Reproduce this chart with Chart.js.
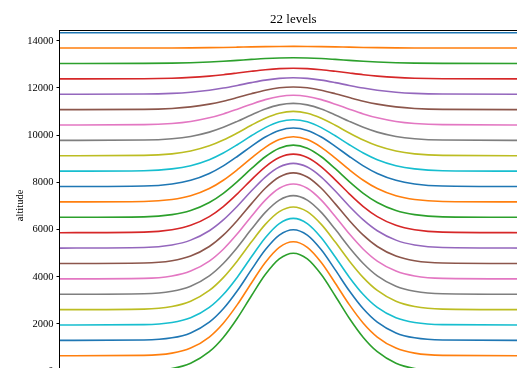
<!DOCTYPE html>
<html>
<head>
<meta charset="utf-8">
<script src="https://cdn.jsdelivr.net/npm/chart.js@4.4.0/dist/chart.umd.min.js"></script>
<style>
  html, body { margin: 0; padding: 0; overflow: hidden; background: #fff; }
  #wrap { width: 540px; height: 392px; }
</style>
</head>
<body>
<div id="wrap"><canvas id="levels" width="540" height="392"></canvas></div>
<script>
// horizontal positions (km), hill centred at 0
const xKm = [-50, -32, -26, -22, -18, -15, -12, -9, -6, -3, 0, 3, 6, 9, 12, 15, 18, 22, 26, 32, 50];

// level heights (m), bottom (z00 = terrain) to top (z22)
const z00 = [0, 17, 116, 338, 823, 1428, 2242, 3185, 4092, 4756, 5000, 4756, 4092, 3185, 2242, 1428, 823, 338, 116, 17, 0];
const z01 = [652, 668, 764, 978, 1447, 2031, 2818, 3728, 4604, 5246, 5482, 5246, 4604, 3728, 2818, 2031, 1447, 978, 764, 668, 652];
const z02 = [1304, 1320, 1413, 1621, 2076, 2643, 3407, 4291, 5142, 5765, 5994, 5765, 5142, 4291, 3407, 2643, 2076, 1621, 1413, 1320, 1304];
const z03 = [1956, 1971, 2061, 2261, 2700, 3247, 3983, 4835, 5655, 6255, 6476, 6255, 5655, 4835, 3983, 3247, 2700, 2261, 2061, 1971, 1956];
const z04 = [2608, 2630, 2739, 2963, 3421, 3966, 4673, 5469, 6219, 6760, 6958, 6760, 6219, 5469, 4673, 3966, 3421, 2963, 2739, 2630, 2608];
const z05 = [3260, 3281, 3386, 3602, 4042, 4565, 5244, 6009, 6729, 7250, 7440, 7250, 6729, 6009, 5244, 4565, 4042, 3602, 3386, 3281, 3260];
const z06 = [3912, 3932, 4033, 4240, 4664, 5167, 5820, 6556, 7249, 7749, 7932, 7749, 7249, 6556, 5820, 5167, 4664, 4240, 4033, 3932, 3912];
const z07 = [4564, 4583, 4680, 4878, 5282, 5762, 6386, 7089, 7751, 8229, 8404, 8229, 7751, 7089, 6386, 5762, 5282, 4878, 4680, 4583, 4564];
const z08 = [5216, 5240, 5348, 5553, 5952, 6411, 6991, 7632, 8227, 8651, 8806, 8651, 8227, 7632, 6991, 6411, 5952, 5553, 5348, 5240, 5216];
const z09 = [5868, 5890, 5990, 6180, 6551, 6976, 7515, 8109, 8661, 9054, 9198, 9054, 8661, 8109, 7515, 6976, 6551, 6180, 5990, 5890, 5868];
const z10 = [6520, 6540, 6632, 6807, 7148, 7538, 8033, 8579, 9086, 9448, 9580, 9448, 9086, 8579, 8033, 7538, 7148, 6807, 6632, 6540, 6520];
const z11 = [7172, 7190, 7273, 7431, 7738, 8091, 8537, 9029, 9487, 9813, 9932, 9813, 9487, 9029, 8537, 8091, 7738, 7431, 7273, 7190, 7172];
const z12 = [7824, 7846, 7933, 8088, 8378, 8699, 9098, 9529, 9923, 10203, 10304, 10203, 9923, 9529, 9098, 8699, 8378, 8088, 7933, 7846, 7824];
const z13 = [8476, 8495, 8571, 8708, 8963, 9246, 9596, 9975, 10321, 10567, 10656, 10567, 10321, 9975, 9596, 9246, 8963, 8708, 8571, 8495, 8476];
const z14 = [9128, 9144, 9210, 9328, 9548, 9792, 10094, 10420, 10719, 10931, 11008, 10931, 10719, 10420, 10094, 9792, 9548, 9328, 9210, 9144, 9128];
const z15 = [9780, 9794, 9849, 9947, 10130, 10334, 10586, 10859, 11109, 11286, 11350, 11286, 11109, 10859, 10586, 10334, 10130, 9947, 9849, 9794, 9780];
const z16 = [10432, 10446, 10497, 10583, 10736, 10902, 11102, 11315, 11508, 11643, 11692, 11643, 11508, 11315, 11102, 10902, 10736, 10583, 10497, 10446, 10432];
const z17 = [11084, 11095, 11134, 11199, 11316, 11442, 11595, 11757, 11904, 12007, 12044, 12007, 11904, 11757, 11595, 11442, 11316, 11199, 11134, 11095, 11084];
const z18 = [11736, 11744, 11772, 11820, 11905, 11997, 12108, 12227, 12334, 12409, 12436, 12409, 12334, 12227, 12108, 11997, 11905, 11820, 11772, 11744, 11736];
const z19 = [12388, 12394, 12415, 12448, 12505, 12564, 12635, 12709, 12775, 12821, 12838, 12821, 12775, 12709, 12635, 12564, 12505, 12448, 12415, 12394, 12388];
const z20 = [13040, 13043, 13054, 13072, 13102, 13134, 13172, 13211, 13247, 13271, 13280, 13271, 13247, 13211, 13172, 13134, 13102, 13072, 13054, 13043, 13040];
const z21 = [13692, 13693, 13696, 13701, 13710, 13719, 13730, 13742, 13752, 13759, 13762, 13759, 13752, 13742, 13730, 13719, 13710, 13701, 13696, 13693, 13692];
const z22 = [14344, 14344, 14344, 14344, 14344, 14344, 14344, 14344, 14344, 14344, 14344, 14344, 14344, 14344, 14344, 14344, 14344, 14344, 14344, 14344, 14344];

const yTicks = [0, 2000, 4000, 6000, 8000, 10000, 12000, 14000];

// plotted top level first, like the original
const levels = [z22, z21, z20, z19, z18, z17, z16, z15, z14, z13, z12, z11,
                z10, z09, z08, z07, z06, z05, z04, z03, z02, z01, z00];

const tab10 = ['#1f77b4', '#ff7f0e', '#2ca02c', '#d62728', '#9467bd',
               '#8c564b', '#e377c2', '#7f7f7f', '#bcbd22', '#17becf'];

const serif = "'Liberation Serif', 'DejaVu Serif', serif";

// black frame round the plot area (matplotlib spines)
const frame = {
    id: 'frame',
    afterDatasetsDraw(chart) {
        const { ctx, chartArea: a } = chart;
        ctx.save();
        ctx.strokeStyle = '#000';
        ctx.lineWidth = 1;
        ctx.strokeRect(Math.round(a.left) - 0.5, Math.round(a.top) + 0.5,
                       Math.round(a.right - a.left), Math.round(a.bottom - a.top));
        ctx.restore();
    }
};

new Chart(document.getElementById('levels'), {
    type: 'line',
    data: {
        datasets: levels.map((lv, i) => ({
            label: 'level ' + (levels.length - 1 - i),
            data: lv.map((z, j) => ({ x: xKm[j], y: z })),
            borderColor: tab10[i % 10],
            borderWidth: 1.6,
            pointRadius: 0,
            fill: false,
            cubicInterpolationMode: 'monotone'
        }))
    },
    options: {
        responsive: false,
        animation: false,
        layout: { padding: { left: 0, right: 13.4, top: 0, bottom: 11.4 } },
        plugins: {
            legend: { display: false },
            tooltip: { enabled: false },
            title: {
                display: true,
                text: '22 levels',
                color: '#000',
                fullSize: false,
                font: { family: serif, size: 13, weight: 'normal' },
                padding: { top: 11.5, bottom: 3.2 }
            }
        },
        scales: {
            x: {
                type: 'linear',
                min: -50,
                max: 50,
                display: false
            },
            y: {
                min: -400,
                max: 14445,
                afterFit: s => { s.width = 60; },
                afterBuildTicks: s => { s.ticks = yTicks.map(v => ({ value: v })); },
                border: { display: false },
                grid: {
                    drawOnChartArea: false,
                    drawTicks: true,
                    tickLength: 3.5,
                    tickColor: '#000',
                    tickWidth: 1
                },
                ticks: {
                    color: '#000',
                    padding: 3,
                    font: { family: serif, size: 10.5 },
                    callback: v => String(v)
                },
                title: {
                    display: true,
                    text: 'altitude',
                    color: '#000',
                    padding: { top: 14, bottom: 0 },
                    font: { family: serif, size: 10.5 }
                }
            }
        }
    },
    plugins: [frame]
});
</script>
</body>
</html>
